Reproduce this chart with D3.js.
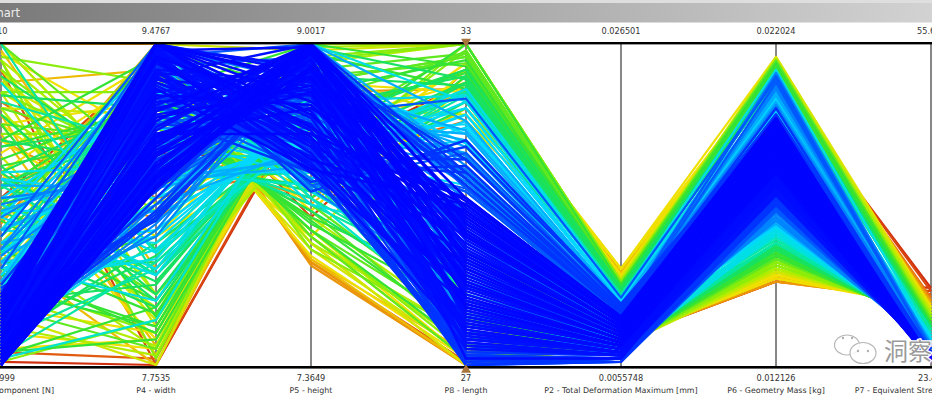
<!DOCTYPE html>
<html>
<head>
<meta charset="utf-8">
<script src="https://cdn.jsdelivr.net/npm/d3@7"></script>
<style>
  html, body { margin: 0; padding: 0; background: #fff; overflow: hidden; }
  text { font-family: "DejaVu Sans", sans-serif; }
</style>
</head>
<body>
<div id="chart"></div>
<script>
//axis labels
const axisNames = ["Component [N]", "P4 - width", "P5 - height", "P8 - length", "P2 - Total Deformation Maximum [mm]", "P6 - Geometry Mass [kg]", "P7 - Equivalent Stress Maximum [MPa]"];
const topLabels = ["10", "9.4767", "9.0017", "33", "0.026501", "0.022024", "55.6"];
const bottomLabels = ["999", "7.7535", "7.3649", "27", "0.0055748", "0.012126", "23.4"];

//one value per design point, as percent of each axis range
//rows in every array: blue, cyan high, cyan low, green high, green low, warm high, warm low,
//then azure, cyan low, cyan high, green high, green low, yellow
const force = [
  0,2,5,1,8,3,12,0,6,15, 4,9,1,18,2,7,22,0,11,3, 14,5,0,19,8,2,17,6,1,10, 3,20,7,0,13,21,4,9,1,16, 6,0,11,2,20,5,0,19,8,3,
  12,1,17,4,7,0,15,2,22,9, 0,10,3,21,5,13,1,8,18,2, 7,16,0,4,16,11,2,6,18,1, 3,13,9,0,14,5,20,1,12,8, 2,6,15,10,0,17,4,19,7,0,
  20,34,14,50,28,18,56,24,40,32,18,46,16,38,26,52,22,30,12,42,20,36,34,24,48,
  10,30,42,18,50,5,36,24,58,14,46,20,32,8,26,
  15,50,75,30,95,60,10,85,42,68,25,100,55,35,80,20,90,47,72,5,
  8,62,30,88,18,48,75,3,95,38,55,22,82,12,68,42,100,28,58,35,
  97,70,88,45,92,60,100,80,35,75,52,85,
  92,78,60,4,85,1,72,95,50,18,66,100,38,88,8,55,28,80,
  10,16,6,20,13,4,18,9,22,12, 15,8,19,11,5,17,14,21,8,3, 12,24,6,15,10,18,4,23,13,8, 17,5,14,20,9,16,11,25,7,19,
  16,5,26,38,10,48,20,56,32,2,42,24,52,8,34,
  38,12,52,26,42,18,58,32,8,46,22,36,60,28,14,
  100,40,78,20,62,92,8,50,84,33,70,15,56,96,28,
  4,20,1,32,12,45,7,26,60,16, 3,38,10,52,24, 70,6,18,85,30, 42,2,14,64,34, 9,48,22,78,36,
  10,65,35,90,5,50,22,75,44,15,98,58,28,82,70
];
const width = [
  98,72,88,60,95,80,100,66,91,99, 84,93,70,100,57,77,97,62,89,75, 96,68,83,100,90,64,94,79,58,86, 73,99,92,55,87,100,69,82,61,95, 78,59,90,65,100,85,71,96,93,67,
  88,63,100,81,74,56,97,70,99,91, 60,94,76,100,83,89,65,72,100,58, 86,98,62,79,100,92,68,75,97,57, 69,100,90,64,96,81,99,59,87,93, 71,84,100,95,61,98,66,100,78,55,
  92,70,100,62,85,96,55,78,100,67,88,74,99,60,93,82,65,100,72,90,58,97,76,86,64,
  52,45,38,58,30,60,42,50,35,55,28,47,40,57,33,
  100,88,70,95,55,82,98,62,90,75,100,50,85,93,66,78,58,97,72,80,
  30,22,10,35,5,26,15,32,2,18,75,85,68,92,80,60,28,12,20,70,
  70,45,60,85,35,92,50,78,66,40,96,55,
  0,3,8,2,12,0,6,15,18,10,95,100,88,92,98,85,90,22,
  62,78,50,90,55,70,95,48,84,58, 75,44,100,66,52,88,60,80,46,72, 96,54,68,82,42,92,64,76,50,86, 40,98,58,74,47,100,56,83,69,45,
  100,90,82,72,64,48,36,28,20,14,95,76,55,42,86,
  48,72,58,90,64,100,52,80,68,96,56,84,62,74,46,
  60,85,48,100,72,55,92,66,80,45,96,52,76,88,40,
  8,25,14,32,3,20,38,10,28,0, 18,5,34,22,12, 62,70,78,85,92, 100,66,74,82,96, 58,88,6,36,16,
  5,14,0,22,8,96,90,82,100,76,30,66,80,52,40
];
const height = [
  99,85,72,96,64,90,78,100,68,93, 81,60,98,70,94,87,62,100,75,91, 66,97,83,74,100,89,69,95,92,61, 100,77,88,97,65,71,94,84,99,63, 86,98,67,100,73,92,80,60,96,89,
  70,95,82,64,100,99,76,91,68,87, 93,75,100,66,97,84,90,72,61,100, 78,69,94,100,88,63,97,83,74,96, 100,91,62,86,79,98,71,93,65,80, 95,68,89,73,100,77,92,85,60,99,
  80,98,65,90,72,100,85,68,92,76,62,95,88,100,70,60,97,78,83,66,100,74,91,69,87,
  72,75,82,64,88,60,78,68,84,66,90,70,80,62,86,
  98,75,92,62,100,68,85,96,58,80,72,94,100,55,88,66,99,78,60,90,
  78,84,92,72,96,80,88,74,98,86,48,42,52,40,45,56,76,90,82,50,
  60,85,68,50,92,48,74,54,64,88,46,80,
  86,88,84,90,84,85,90,80,76,86,38,31,36,33,32,40,34,74,
  88,66,95,60,84,78,58,98,64,92, 72,90,56,80,100,62,86,68,94,76, 55,96,74,60,100,57,82,70,91,63, 99,54,87,71,93,56,85,65,77,97,
  52,56,58,62,66,74,80,84,90,94,50,60,70,78,54,
  94,58,84,62,78,56,90,66,88,60,100,70,82,64,96,
  88,60,100,56,76,95,64,82,58,99,52,90,70,62,97,
  90,82,88,76,98,84,74,92,80,98, 86,94,76,82,90, 56,50,46,42,38, 36,54,48,44,40, 60,42,96,72,88,
  88,86,94,80,92,33,38,42,32,46,76,52,40,62,70
];
const length = [
  2,18,40,6,48,12,30,0,24,9, 35,4,15,52,1,27,8,44,20,0, 11,32,3,46,17,0,38,7,25,50, 14,0,28,42,5,21,36,10,49,2, 23,45,1,33,13,6,51,19,0,39,
  8,26,47,3,16,41,0,31,12,22, 43,5,29,0,37,10,18,50,2,34, 1,20,7,48,24,14,40,0,28,9, 52,11,35,4,19,44,2,30,15,6, 25,0,41,13,33,8,46,17,3,21,
  70,62,80,58,75,55,68,84,60,72,78,65,57,82,66,74,59,83,64,56,76,61,69,80,73,
  30,20,12,42,8,48,25,36,15,45,5,28,18,38,10,
  100,92,97,85,100,88,95,100,84,90,98,100,93,86,96,100,89,91,100,87,
  25,15,8,30,3,20,10,28,0,12,18,6,24,2,10,30,22,5,14,26,
  94,86,84,90,76,92,88,80,88,85,92,78,
  0,2,6,0,8,4,1,10,12,5,0,0,3,0,1,6,2,14,
  40,55,28,62,35,48,20,58,44,30, 52,25,66,38,60,16,46,34,64,42, 22,56,32,50,12,68,36,54,26,60, 18,70,44,10,58,30,48,64,24,40,
  12,28,6,35,18,42,24,8,32,15,38,3,44,20,26,
  60,76,52,82,66,50,72,86,56,78,64,54,84,70,58,
  96,88,100,82,92,100,85,97,80,100,90,94,84,98,86,
  10,22,4,30,2,16,34,8,26,0, 12,18,28,6,20, 32,14,24,4,0, 10,28,8,18,2, 35,12,6,30,16,
  3,6,1,8,0,4,10,2,0,12,84,80,88,76,92
];
const deformation = [
  2,6,12,3,14,5,9,2,8,4, 11,3,6,15,2,9,4,13,7,1, 4,10,2,13,6,2,11,3,8,14, 5,2,9,12,3,7,11,4,14,2, 8,13,2,10,5,3,15,7,1,12,
  4,8,14,2,6,12,2,10,5,7, 13,3,9,1,11,4,6,14,2,10, 2,7,3,14,8,5,12,2,9,4, 15,4,11,3,7,13,2,9,6,3, 8,2,12,5,10,4,13,6,2,7,
  18,16,20,15,19,15,17,21,16,18,20,17,15,21,17,19,16,21,17,15,19,16,18,20,19,
  10,8,6,13,5,14,9,11,7,13,4,9,7,12,5,
  25,24,25,22,26,23,24,26,22,23,25,26,24,22,25,25,23,24,26,23,
  8,6,6,10,6,7,6,9,7,6,8,6,9,6,6,11,8,6,6,10,
  28,29,27,28,27,30,27,27,29,27,28,27,
  8,8,9,8,9,8,8,10,10,9,8,9,8,8,8,9,8,10,
  12,16,9,17,11,14,7,16,13,10, 15,8,18,11,17,6,14,10,18,12, 8,16,10,15,6,19,11,15,9,17, 7,19,13,5,16,10,14,18,8,12,
  7,10,6,12,8,13,9,6,11,7,12,6,14,8,10,
  16,19,14,21,17,14,18,21,15,20,17,15,21,18,16,
  25,23,26,22,24,26,22,25,22,26,24,25,23,25,23,
  7,8,6,10,6,7,11,6,9,6, 7,7,10,6,8, 11,7,9,6,7, 7,10,6,8,7, 12,7,6,10,7,
  8,9,8,9,8,8,9,8,8,10,29,28,30,27,30
];
const mass = [
  60,66,70,52,76,58,72,50,64,55, 73,51,61,74,48,65,54,75,62,49, 57,69,50,74,59,48,71,53,63,72, 60,49,66,73,53,62,70,56,75,51, 64,72,50,68,58,54,77,61,48,71,
  55,65,75,52,59,70,49,67,57,63, 73,53,67,50,69,56,61,74,51,68, 52,62,55,72,65,58,71,48,66,54, 76,56,70,53,60,74,50,67,59,52, 63,49,71,57,68,54,73,60,51,64,
  84,80,82,74,85,88,73,83,90,76,79,86,87,92,75,73,86,89,81,74,85,91,83,78,77,
  43,44,42,46,41,45,43,44,42,46,41,43,44,45,42,
  96,91,90,88,92,89,94,93,88,90,95,91,94,88,90,93,89,93,92,91,
  38,36,35,40,33,37,35,39,31,36,37,34,38,33,35,40,38,34,36,39,
  94,90,93,88,92,96,93,92,88,93,89,92,
  26,27,28,26,29,27,27,30,31,28,27,26,29,27,26,30,28,32,
  60,68,52,72,50,62,48,74,56,46, 66,50,70,58,78,47,64,52,76,60, 46,80,54,66,45,72,58,68,50,74, 48,76,60,46,78,50,65,70,49,71,
  40,42,38,43,40,44,41,38,42,40,43,38,44,41,42,
  74,80,72,86,76,78,74,84,76,84,82,78,82,76,78,
  93,89,95,88,90,94,90,92,88,95,90,92,89,93,90,
  34,36,32,37,30,35,37,32,36,29, 34,30,37,33,35, 36,33,35,31,29, 32,37,33,34,30, 37,33,30,36,34,
  28,29,27,31,28,27,30,28,26,32,91,90,92,89,93
];
const stress = [
  2,1,2,4,1,2,1,4,2,3, 1,4,2,2,5,1,3,1,3,5, 2,1,4,1,3,5,2,3,1,1, 3,5,2,1,4,1,2,2,2,4, 2,1,4,1,3,3,1,2,5,2,
  3,1,1,4,2,1,5,2,3,2, 2,3,1,4,2,2,1,1,4,1, 4,2,3,1,2,3,1,5,2,3, 1,3,2,4,1,2,4,1,3,4, 2,5,1,2,2,3,1,2,4,1,
  7,6,8,6,8,5,7,9,5,7,8,6,6,9,7,8,6,5,6,8,7,6,8,9,7,
  8,8,9,7,9,8,8,7,9,7,9,8,8,7,9,
  17,12,14,11,16,12,13,15,11,12,14,16,13,11,14,13,12,13,15,12,
  11,12,13,10,14,12,13,11,15,12,12,13,11,14,13,10,11,13,12,11,
  18,20,17,19,17,18,18,17,24,18,23,17,
  23,19,18,22,17,24,19,17,16,18,18,20,17,19,22,16,18,16,
  5,5,6,4,5,5,6,4,5,6, 4,6,5,5,4,6,5,5,4,5, 6,4,5,5,6,4,5,5,5,4, 6,4,5,6,4,5,5,4,5,4,
  10,9,11,8,10,8,9,11,9,10,9,11,8,9,9,
  7,8,6,9,7,6,8,9,6,8,7,6,9,8,7,
  14,12,16,12,13,15,12,14,12,16,13,14,12,15,13,
  13,12,15,12,16,13,12,15,12,17, 13,16,12,14,13, 12,14,13,15,17, 15,12,14,13,16, 12,14,16,12,13,
  18,17,19,16,18,19,16,18,20,16,19,20,18,21,18
];
const columns = [force, width, height, length, deformation, mass, stress];

//colour follows the last axis
const colorStops = [0, 3, 5, 8, 10.5, 12.5, 15.5, 18, 21, 24];
const colorRange = ["#0000ff", "#0010ff", "#0058ff", "#00d8ff", "#00e8c0", "#20e040", "#a0f000", "#f0e000", "#e87010", "#d03010"];

//size
const W = 932, H = 396;
const yTop = 44, yBottom = 365;

//scale
const xScale = d3.scalePoint().domain(d3.range(axisNames.length)).range([1, 931]);
const yScale = d3.scaleLinear().domain([0, 100]).range([yBottom, yTop]);
const colorScale = d3.scaleLinear().domain(colorStops).range(colorRange).clamp(true);

//create element
const svg = d3.select("#chart").append("svg").attr("width", W).attr("height", H).style("display", "block");

//title bar
const grad = svg.append("defs").append("linearGradient").attr("id", "bar");
grad.append("stop").attr("offset", "0%").attr("stop-color", "#7a7a7a");
grad.append("stop").attr("offset", "100%").attr("stop-color", "#d2d2d2");
svg.append("rect").attr("width", W).attr("height", 3).attr("fill", "#dedede");
svg.append("rect").attr("y", 3).attr("width", W).attr("height", 19.5).attr("fill", "url(#bar)");
svg.append("text").attr("x", 20).attr("y", 17).attr("text-anchor", "end").attr("font-size", 11.5).attr("fill", "#eee").text("Chart");

//axis lines sit under the polylines
svg.append("g").selectAll("line").data(axisNames).join("line")
  .attr("x1", (d, i) => xScale(i)).attr("x2", (d, i) => xScale(i))
  .attr("y1", yTop).attr("y2", yBottom + 2)
  .attr("stroke", "#111").attr("stroke-width", 1);

//polylines, warm first so the blue ends up on top
const rows = force.map((_, i) => columns.map((c) => c[i]));
rows.sort((a, b) => d3.descending(a[6], b[6]));

const line = d3.line().x((d, i) => xScale(i)).y((d) => yScale(d));

svg.append("g").attr("fill", "none").style("filter", "blur(0.45px)").selectAll("path").data(rows).join("path")
  .attr("d", line)
  .attr("stroke", (d) => colorScale(d[6]))
  .attr("stroke-width", (d) => (d[6] <= 4 ? 2.5 : 2.2))
  .attr("stroke-linejoin", "round");

//frame rules
svg.append("rect").attr("y", 42).attr("width", W).attr("height", 2.4).attr("fill", "#000");
svg.append("rect").attr("y", 366).attr("width", W).attr("height", 2.6).attr("fill", "#000");

//brush handles on P8
const handle = d3.symbol().type(d3.symbolTriangle).size(42);
svg.append("path").attr("d", handle).attr("fill", "#a9743c").attr("transform", `translate(${xScale(3)},41.5) rotate(180)`);
svg.append("path").attr("d", handle).attr("fill", "#a9743c").attr("transform", `translate(${xScale(3)},370)`);

//labels
const labelY = [34, 381];
[topLabels, bottomLabels].forEach((labels, k) => {
  svg.append("g").selectAll("text").data(labels).join("text")
    .attr("y", labelY[k])
    .attr("font-size", 8.2)
    .attr("fill", "#333")
    .attr("text-anchor", (d, i) => (i == 0 ? "end" : i == 6 ? "start" : "middle"))
    .attr("x", (d, i) => (i == 0 ? (k == 0 ? 7.5 : 15) : i == 6 ? (k == 0 ? 917 : 918) : xScale(i)))
    .text((d) => d);
});
svg.append("g").selectAll("text").data(axisNames).join("text")
  .attr("y", 393)
  .attr("font-size", 7.9)
  .attr("fill", "#333")
  .attr("text-anchor", (d, i) => (i == 0 ? "end" : "middle"))
  .attr("x", (d, i) => (i == 0 ? 54 : xScale(i)))
  .text((d) => d);

//watermark
const mark = svg.append("g");
[[847, 345, 12.5, 10], [863, 353, 13, 10.5]].forEach(([cx, cy, rx, ry]) => {
  mark.append("ellipse").attr("cx", cx).attr("cy", cy).attr("rx", rx).attr("ry", ry)
    .attr("fill", "#fff").attr("fill-opacity", 0.85).attr("stroke", "#b8b8b8").attr("stroke-width", 1.2);
});
[[843, 338], [852, 338], [858, 351], [868, 351]].forEach(([cx, cy]) => {
  mark.append("circle").attr("cx", cx).attr("cy", cy).attr("r", 1.2).attr("fill", "#b0b0b0");
});
mark.append("text").attr("x", 884).attr("y", 360).attr("font-size", 24)
  .style("font-family", '"Noto Sans CJK SC", sans-serif')
  .attr("fill", "#9a9a9a").attr("stroke", "#fff").attr("stroke-width", 2.5).attr("paint-order", "stroke")
  .text("洞察");
</script>
</body>
</html>
